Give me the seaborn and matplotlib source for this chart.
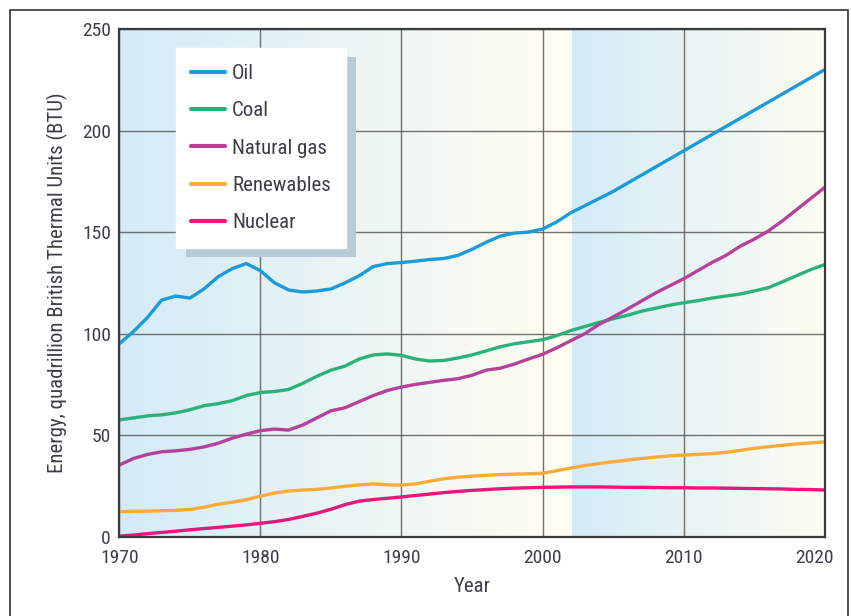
import numpy as np
import pandas as pd
import matplotlib
matplotlib.use("Agg")
import matplotlib.pyplot as plt
from matplotlib import font_manager
from matplotlib.colors import LinearSegmentedColormap
from matplotlib.patches import Rectangle
from matplotlib.transforms import IdentityTransform, ScaledTranslation
import seaborn as sns

years = list(range(1970, 2021))

oil = [95, 101, 108, 116.5, 118.5, 117.5, 122, 128, 132, 134.5,
       131, 125, 121.5, 120.5, 121, 122, 125, 128.5, 133, 134.5,
       135, 135.7, 136.5, 137, 138.5, 141.5, 145, 148, 149.5, 150,
       151.5, 155, 159.5, 163, 166.5, 170, 174, 178, 182, 186,
       190, 194, 198, 202, 206, 210, 214, 218, 222, 226, 230]
coal = [57.5, 58.5, 59.5, 60, 61, 62.5, 64.5, 65.5, 67, 69.5,
        71, 71.5, 72.5, 75.5, 79, 82, 84, 87.5, 89.5, 90,
        89.3, 87.5, 86.5, 86.8, 88, 89.5, 91.5, 93.5, 95, 96,
        97, 99, 101.5, 103.5, 105.5, 107.3, 109, 111, 112.5, 114,
        115.2, 116.2, 117.5, 118.5, 119.5, 121, 122.6, 125.5, 128.5, 131.5, 134]
gas = [35.3, 38.5, 40.5, 41.8, 42.3, 43, 44.2, 46, 48.5, 50.5,
       52.2, 53, 52.5, 55, 58.5, 62, 63.5, 66.5, 69.5, 72,
       73.7, 75, 76, 77, 77.8, 79.5, 82, 83, 85, 87.5,
       89.8, 93, 96.5, 100, 104.5, 108.2, 112, 116, 120, 123.5,
       127, 131, 135, 138.5, 143, 146.5, 150.5, 155.5, 161, 166.5, 172]
renewables = [12.3, 12.5, 12.6, 12.8, 13, 13.4, 14.5, 16, 17, 18.2,
              20, 21.5, 22.5, 23, 23.3, 24, 24.8, 25.5, 26, 25.5,
              25.4, 26, 27.3, 28.5, 29.3, 29.8, 30.2, 30.6, 30.8, 31,
              31.2, 32.5, 33.8, 35, 36, 36.9, 37.7, 38.5, 39.2, 39.8,
              40.2, 40.5, 40.9, 41.5, 42.5, 43.5, 44.3, 45, 45.7, 46.2, 46.7]
nuclear = [0.3, 0.8, 1.5, 2.1, 2.7, 3.4, 4.0, 4.6, 5.2, 5.8,
           6.6, 7.4, 8.5, 10, 11.6, 13.5, 15.8, 17.5, 18.3, 18.9,
           19.6, 20.3, 21, 21.7, 22.3, 22.8, 23.2, 23.6, 23.9, 24.1,
           24.3, 24.4, 24.5, 24.5, 24.5, 24.4, 24.3, 24.3, 24.2, 24.1,
           24.1, 24.0, 24.0, 23.9, 23.8, 23.7, 23.6, 23.5, 23.3, 23.2, 23.0]

sources = ["Oil", "Coal", "Natural gas", "Renewables", "Nuclear"]
colors = ["#1b9bd9", "#2bb27b", "#b5419b", "#fbab3b", "#e9177b"]
x_ticks = [1970, 1980, 1990, 2000, 2010, 2020]
y_ticks = [0, 50, 100, 150, 200, 250]

series = [oil, coal, gas, renewables, nuclear]
df = pd.concat([pd.DataFrame({"Year": years, "Energy": v, "Source": s})
                for s, v in zip(sources, series)], ignore_index=True)

sns.set_theme(style="white")
available = {f.name for f in font_manager.fontManager.ttflist}
fam = None
for cand in ["Liberation Sans Narrow", "Roboto Condensed", "Open Sans Condensed"]:
    if cand in available:
        fam = cand
        break
if fam is None:
    plt.rcParams["font.family"] = ["DejaVu Sans"]
    plt.rcParams["font.stretch"] = "condensed"
else:
    plt.rcParams["font.family"] = [fam, "DejaVu Sans"]

text_color = "#3e3e48"

fig = plt.figure(figsize=(8.51, 6.16), dpi=100)
ax = fig.add_axes([119.3 / 851, 1 - 536.7 / 616, (824.7 - 119.3) / 851, (536.7 - 29) / 616])

# background gradients
blue = "#d4ebf8"
yellow = "#fdfdf1"
cmap = LinearSegmentedColormap.from_list("bg", [blue, yellow])
grad = np.linspace(0, 1, 256).reshape(1, -1)
ax.imshow(grad, cmap=cmap, extent=[1970, 2000, 0, 250], aspect="auto", zorder=0)
ax.imshow(np.ones((1, 2)), cmap=cmap, vmin=0, vmax=1, extent=[2000, 2002.1, 0, 250], aspect="auto", zorder=0)
ax.imshow(grad, cmap=cmap, extent=[2002.1, 2020, 0, 250], aspect="auto", zorder=0)

sns.lineplot(data=df, x="Year", y="Energy", hue="Source", hue_order=sources,
             palette=dict(zip(sources, colors)), linewidth=2.4, ax=ax, zorder=3)

ax.set_xlim(1970, 2020)
ax.set_ylim(0, 250)
ax.set_xticks(x_ticks)
ax.set_yticks(y_ticks)
ax.grid(True, color="#5a5a5a", linewidth=1.0, alpha=0.85, zorder=1)
for l in ax.get_xgridlines() + ax.get_ygridlines():
    l.set_zorder(1)
for sp in ax.spines.values():
    sp.set_color("#3a3a3a")
    sp.set_linewidth(1.6)
    sp.set_zorder(4)
ax.tick_params(axis="both", length=0, labelsize=14, colors=text_color)
ax.tick_params(axis="y", pad=6)
ax.tick_params(axis="x", pad=9)
ax.set_xlabel("Year", fontsize=15, color=text_color, labelpad=7)
ax.set_ylabel("Energy, quadrillion British Thermal Units (BTU)", fontsize=15,
              color=text_color, labelpad=10)

# shift last x tick label slightly left as in the reference
lbls = ax.get_xticklabels()
lbls[-1].set_transform(lbls[-1].get_transform() + ScaledTranslation(-10 / 100, 0, fig.dpi_scale_trans))

handles, labels = ax.get_legend_handles_labels()
for h in handles:
    h.set_linewidth(3)
leg = ax.legend(handles, labels, loc="upper left", bbox_to_anchor=(175.7 / 851, 1 - 48.3 / 616),
                bbox_transform=fig.transFigure, borderaxespad=0, frameon=True, fancybox=False,
                framealpha=1, edgecolor="white", facecolor="white", fontsize=15,
                handlelength=1.6, handletextpad=0.35, labelspacing=0.88, borderpad=0.75,
                labelcolor=text_color)
leg.set_zorder(6)

fig.canvas.draw()
bb = leg.get_window_extent()
shadow = Rectangle((bb.x0 + 10, bb.y0 - 9), bb.width, bb.height, transform=IdentityTransform(),
                   facecolor="#b8cad8", edgecolor="none", zorder=5)
ax.add_artist(shadow)

# outer border
fig.patches.append(Rectangle((10 / 851, -0.05), 838 / 851, 1 - 10 / 616 + 0.05,
                             transform=fig.transFigure, fill=False, edgecolor="#333333",
                             linewidth=1.2, zorder=0))

fig.savefig("out.png", dpi=100)
